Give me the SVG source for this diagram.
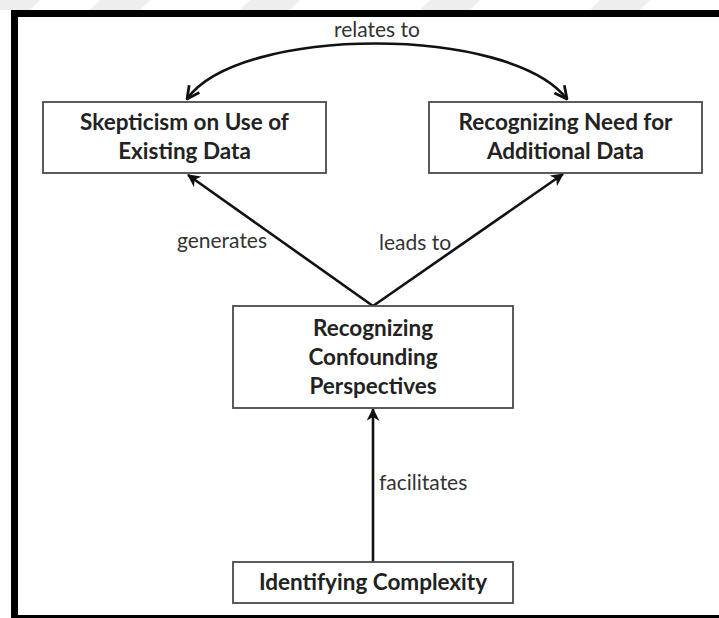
<svg xmlns="http://www.w3.org/2000/svg" width="719" height="618" viewBox="0 0 719 618">
  <defs>
    <style>
      .box { fill: #ffffff; stroke: #4a4a4a; stroke-width: 1.8; }
      .title { font-family: Lato, "Open Sans", "Liberation Sans", sans-serif; font-weight: bold; font-size: 22.5px; fill: #222222; text-anchor: middle; }
      .label { font-family: Lato, "Open Sans", "Liberation Sans", sans-serif; font-size: 21px; fill: #333333; }
      .edge { fill: none; stroke: #111111; stroke-width: 2.6; }
      .frame { fill: #000000; }
      .haze { fill: #eeeeee; }
    </style>
    <marker id="head" viewBox="0 0 12 12" refX="11" refY="6" markerWidth="13" markerHeight="13" markerUnits="userSpaceOnUse" orient="auto">
      <path d="M0,0 L12,6 L0,12 L3.5,6 z" fill="#111111"/>
    </marker>
    <marker id="vee" viewBox="0 0 12 12" refX="11" refY="6" markerWidth="15" markerHeight="15" markerUnits="userSpaceOnUse" orient="auto-start-reverse">
      <path d="M1,1 L11,6 L1,11" fill="none" stroke="#111111" stroke-width="2.2"/>
    </marker>
  </defs>

  <!-- background -->
  <rect x="0" y="0" width="719" height="618" fill="#ffffff"/>
  <polygon class="haze" points="0,0 40,0 30,10 0,10"/>
  <polygon class="haze" points="100,0 150,0 140,10 90,10"/>
  <polygon class="haze" points="250,0 300,0 290,10 240,10"/>
  <polygon class="haze" points="430,0 480,0 470,10 420,10"/>
  <polygon class="haze" points="600,0 650,0 640,10 590,10"/>

  <!-- frame (left, top, bottom) -->
  <rect class="frame" x="11" y="10" width="708" height="7"/>
  <rect class="frame" x="11" y="10" width="7" height="608"/>
  <rect class="frame" x="11" y="615" width="708" height="3"/>

  <!-- connectors -->
  <g id="connectors">
    <path class="edge" d="M187,99 C240,25 510,25 567,99" marker-start="url(#vee)" marker-end="url(#vee)"/>
    <line class="edge" x1="373" y1="306" x2="188" y2="175" marker-end="url(#head)"/>
    <line class="edge" x1="373" y1="306" x2="563" y2="174" marker-end="url(#head)"/>
    <line class="edge" x1="373" y1="562" x2="373" y2="409" marker-end="url(#head)"/>
    <text class="label" x="377" y="37" text-anchor="middle">relates to</text>
    <text class="label" x="222" y="248" text-anchor="middle">generates</text>
    <text class="label" x="415" y="250" text-anchor="middle">leads to</text>
    <text class="label" x="379" y="490">facilitates</text>
  </g>

  <g id="skepticism">
    <rect class="box" x="43" y="102" width="283" height="71"/>
    <text class="title" x="184.5" y="130">Skepticism on Use of</text>
    <text class="title" x="184.5" y="159">Existing Data</text>
  </g>

  <g id="need-for-data">
    <rect class="box" x="429" y="102" width="273" height="71"/>
    <text class="title" x="565.5" y="130">Recognizing Need for</text>
    <text class="title" x="565.5" y="159">Additional Data</text>
  </g>

  <g id="confounding">
    <rect class="box" x="233" y="306" width="280" height="102"/>
    <text class="title" x="373" y="336">Recognizing</text>
    <text class="title" x="373" y="365">Confounding</text>
    <text class="title" x="373" y="394">Perspectives</text>
  </g>

  <g id="complexity">
    <rect class="box" x="233" y="562" width="280" height="41"/>
    <text class="title" x="373" y="590">Identifying Complexity</text>
  </g>
</svg>
